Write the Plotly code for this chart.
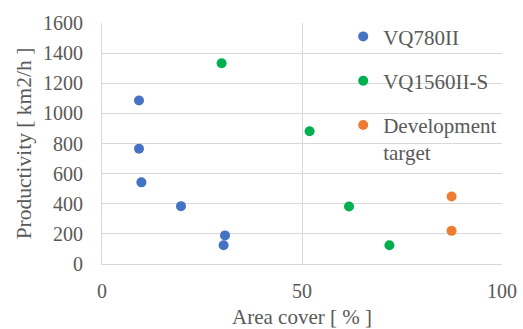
import plotly.graph_objects as go

vq780_x = [9.25, 9.25, 9.85, 19.75, 30.75, 30.4]
vq780_y = [1086, 765, 542, 384, 190, 125]
vq1560_x = [29.9, 51.9, 61.75, 71.85]
vq1560_y = [1333, 881, 382, 125]
dev_x = [87.4, 87.4]
dev_y = [448, 220]

names = ["VQ780II", "VQ1560II-S", "Development<br>target"]
colors = ["#4472C4", "#00B050", "#ED7D31"]

fig = go.Figure()
for i, (xs, ys) in enumerate([(vq780_x, vq780_y), (vq1560_x, vq1560_y), (dev_x, dev_y)]):
    fig.add_trace(go.Scatter(
        x=xs, y=ys, mode="markers", name=names[i], legendgroup=str(i),
        marker=dict(color=colors[i], size=10, line=dict(width=0)),
    ))

fam = "Liberation Serif, Times New Roman, serif"
grey = "#595959"
tickfont = dict(family=fam, size=20, color=grey)
legfont = dict(family=fam, size=21, color=grey)
fig.update_layout(
    width=523, height=329,
    margin=dict(l=102, r=21, t=21, b=65),
    paper_bgcolor="white", plot_bgcolor="white",
    font=tickfont,
    showlegend=True,
    legend=dict(x=0.603, y=1.028, xanchor="left", yanchor="top",
                bgcolor="rgba(0,0,0,0)", tracegroupgap=14, valign="top",
                itemsizing="trace", font=legfont),
    xaxis=dict(range=[0, 100], dtick=50, showgrid=True, gridcolor="#d9d9d9",
               showline=True, linecolor="#d9d9d9", zeroline=False,
               ticks="", ticklabelstandoff=9, automargin=False,
               tickfont=tickfont,
               title=dict(text="Area cover [ % ]",
                          font=dict(family=fam, size=21, color=grey))),
    yaxis=dict(range=[0, 1600], dtick=200, showgrid=True, gridcolor="#d9d9d9",
               showline=True, linecolor="#d9d9d9", zeroline=False,
               ticks="", ticklabelstandoff=14, automargin=True,
               tickfont=tickfont,
               title=dict(text="Productivity [ km2/h ]", standoff=5,
                          font=dict(family=fam, size=21.5, color=grey))),
)
fig.write_html("out.html", config={"displayModeBar": False},
               post_script="document.body.style.margin='0';document.body.style.padding='0';")
